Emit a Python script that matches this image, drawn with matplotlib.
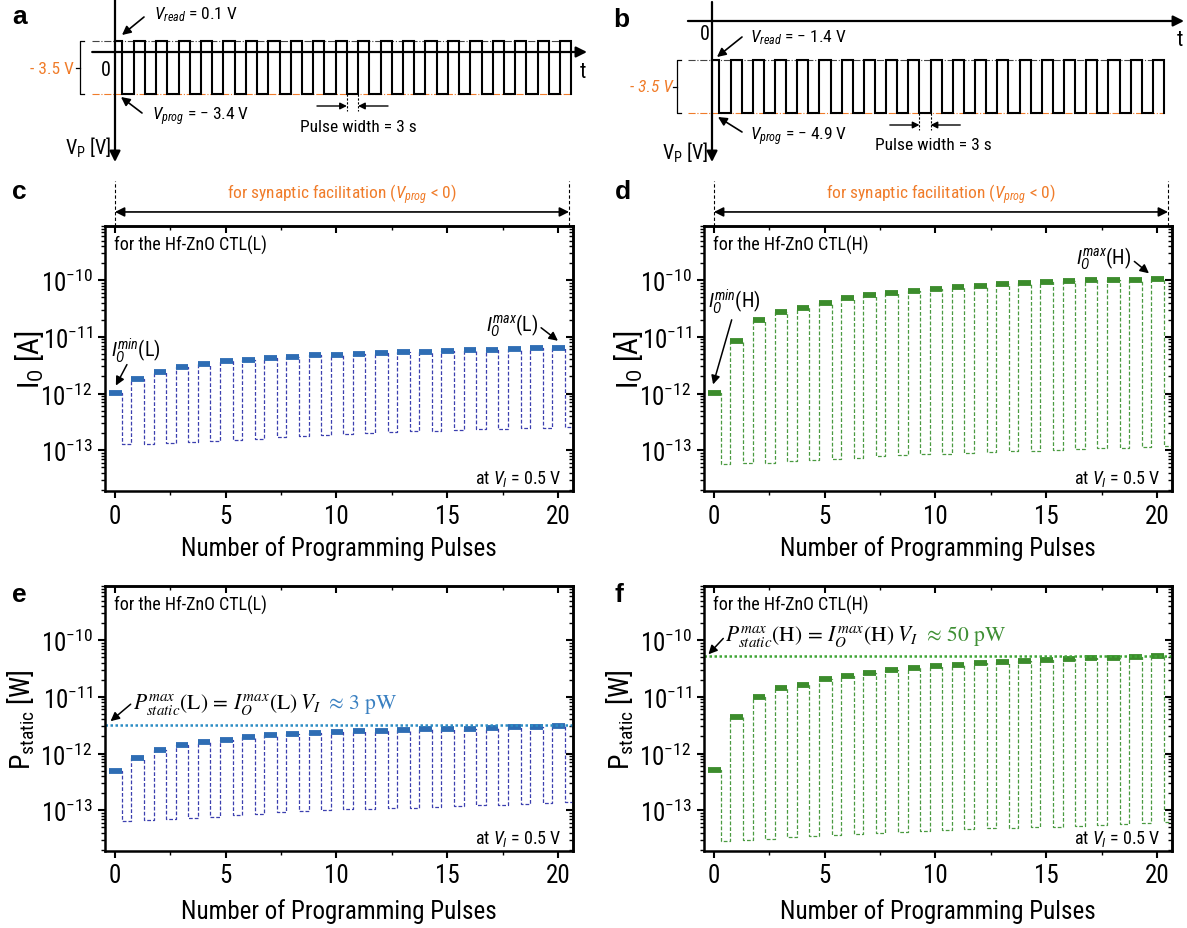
import numpy as np
import matplotlib
matplotlib.use('Agg')
import matplotlib.pyplot as plt
from matplotlib import font_manager as fm
from matplotlib.ticker import LogLocator, FixedLocator, NullFormatter, MultipleLocator

# ---------------- data ----------------
pulses = np.arange(21)

c_high = [1.03e-12, 1.78e-12, 2.4e-12, 2.9e-12, 3.3e-12, 3.7e-12, 3.97e-12, 4.25e-12, 4.4e-12, 4.8e-12,
          4.8e-12, 5.05e-12, 5.2e-12, 5.5e-12, 5.5e-12, 5.6e-12, 5.8e-12, 5.85e-12, 6.1e-12, 6.3e-12, 6.25e-12]
c_low = [1.26e-13, 1.29e-13, 1.32e-13, 1.40e-13, 1.48e-13, 1.54e-13, 1.60e-13, 1.73e-13, 1.80e-13, 1.88e-13,
         1.95e-13, 2.0e-13, 2.06e-13, 2.14e-13, 2.2e-13, 2.23e-13, 2.32e-13, 2.38e-13, 2.45e-13, 2.5e-13, 2.6e-13]

d_high = [1.02e-12, 8.4e-12, 2.01e-11, 2.71e-11, 3.27e-11, 4.0e-11, 4.78e-11, 5.5e-11, 6.0e-11, 6.4e-11,
          7.1e-11, 7.6e-11, 7.95e-11, 8.4e-11, 8.97e-11, 9.1e-11, 9.7e-11, 1.0e-10, 1.0e-10, 1.02e-10, 1.03e-10]
d_low = [5.67e-14, 5.83e-14, 6.0e-14, 6.33e-14, 6.68e-14, 7.05e-14, 7.43e-14, 7.85e-14, 8.28e-14, 8.5e-14,
         8.74e-14, 9.1e-14, 9.4e-14, 9.6e-14, 9.86e-14, 1.01e-13, 1.04e-13, 1.08e-13, 1.11e-13, 1.14e-13, 1.19e-13]

e_high = [4.9e-13, 8.26e-13, 1.16e-12, 1.39e-12, 1.62e-12, 1.75e-12, 1.96e-12, 2.1e-12, 2.18e-12, 2.28e-12,
          2.37e-12, 2.5e-12, 2.5e-12, 2.65e-12, 2.68e-12, 2.72e-12, 2.72e-12, 2.83e-12, 2.91e-12, 2.95e-12, 3.08e-12]
e_low = [6.45e-14, 6.71e-14, 7.1e-14, 7.39e-14, 7.7e-14, 8.14e-14, 8.49e-14, 9.2e-14, 9.6e-14, 1.0e-13,
         1.04e-13, 1.06e-13, 1.09e-13, 1.11e-13, 1.15e-13, 1.18e-13, 1.23e-13, 1.24e-13, 1.3e-13, 1.33e-13, 1.39e-13]
e_pmax = 3.2e-12

f_high = [5.18e-13, 4.34e-12, 1.0e-11, 1.41e-11, 1.61e-11, 2.04e-11, 2.3e-11, 2.65e-11, 2.95e-11, 3.2e-11,
          3.43e-11, 3.58e-11, 3.94e-11, 4.17e-11, 4.34e-11, 4.52e-11, 4.65e-11, 4.84e-11, 4.9e-11, 5.1e-11, 5.2e-11]
f_low = [2.91e-14, 3.03e-14, 3.16e-14, 3.34e-14, 3.48e-14, 3.63e-14, 3.78e-14, 3.99e-14, 4.16e-14, 4.33e-14,
         4.52e-14, 4.71e-14, 4.84e-14, 4.9e-14, 5.03e-14, 5.15e-14, 5.32e-14, 5.47e-14, 5.62e-14, 5.86e-14, 6.19e-14]
f_pmax = 5.3e-11

ytick_vals = [1e-13, 1e-12, 1e-11, 1e-10]

# schematic pulse trains (panels a, b)
n_prog_pulses = 20
pulse_width_s = 3
first_read_s = 2
a_levels = (11, -42)    # schematic (read, prog)
b_levels = (-39, -92)


# ---------------- fonts ----------------
def has_font(name):
    try:
        fm.findfont(fm.FontProperties(family=name), fallback_to_default=False)
        return True
    except Exception:
        return False


BASE = 'Liberation Sans'
for cand in ['Liberation Sans Narrow', 'Arial Narrow', 'Roboto Condensed', 'Archivo Narrow',
             'PT Sans Narrow', 'IBM Plex Sans Condensed', 'Liberation Sans']:
    if has_font(cand):
        BASE = cand
        break

plt.rcParams['font.family'] = [BASE, 'DejaVu Sans']
plt.rcParams['mathtext.fontset'] = 'custom'
plt.rcParams['mathtext.rm'] = BASE
plt.rcParams['mathtext.it'] = BASE + ':italic'
plt.rcParams['mathtext.bf'] = BASE + ':bold'
plt.rcParams['axes.unicode_minus'] = True

W, H = 1187, 929
fig = plt.figure(figsize=(W / 100, H / 100), dpi=100)

ORANGE = '#F07C2A'
BLUE_T, BLUE_D = '#2E6DB4', '#3B3FAF'
GREEN_T, GREEN_D = '#3C8C2C', '#4A9A40'


def rect(x0, y0, x1, y1):
    return [x0 / W, 1 - y1 / H, (x1 - x0) / W, (y1 - y0) / H]


def ftext(x, y, s, **kw):
    return fig.text(x / W, 1 - y / H, s, **kw)


def FP(x, y):
    return (x, H - y)


def letter(ch, x, y):
    ftext(x, y, ch, fontsize=19, fontweight='bold', family='Liberation Sans', ha='left', va='center')


# ---------------- schematic panels ----------------
def schematic(axrect, x0px, pxs, y0px, levels, axis_top, axis_tip, taxis, bracket_t, mark_k, mark_y):
    ax = fig.add_axes(axrect)
    ax.set_axis_off()
    wpx = axrect[2] * W
    hpx = axrect[3] * H
    ax.set_xlim(-x0px / pxs, (wpx - x0px) / pxs)
    ax.set_ylim(y0px - hpx, y0px)
    hi, lo = levels
    ts, vs = [0], [hi]
    period = 2 * pulse_width_s
    for k in range(n_prog_pulses):
        s = first_read_s + period * k
        ts += [s, s, s + pulse_width_s, s + pulse_width_s]
        vs += [hi, lo, lo, hi]
    t_end = first_read_s + period * n_prog_pulses
    ts += [t_end, t_end]
    vs += [hi, lo]
    ax.plot([taxis[0], t_end], [hi, hi], color='#444444', lw=0.8, ls='-.')
    ax.plot([taxis[0], t_end], [lo, lo], color=ORANGE, lw=0.8, ls='-.')
    ax.plot(ts, vs, color='k', lw=1.5, solid_joinstyle='miter')
    # axes arrows
    ax.annotate('', xy=(taxis[1], 0), xytext=(taxis[0], 0),
                arrowprops=dict(arrowstyle='-|>', color='k', lw=1.6, mutation_scale=16,
                                shrinkA=0, shrinkB=0))
    ax.annotate('', xy=(0, axis_tip), xytext=(0, axis_top),
                arrowprops=dict(arrowstyle='-|>', color='k', lw=1.6, mutation_scale=16,
                                shrinkA=0, shrinkB=0))
    # bracket
    bt = bracket_t
    ax.plot([bt + 1.1, bt, bt, bt + 1.1], [hi, hi, lo, lo], color='k', lw=0.9)
    ax.plot([bt, bt - 1.1], [(hi + lo) / 2] * 2, color='k', lw=0.9)
    # pulse width marker
    s = first_read_s + period * mark_k
    for tt in (s, s + pulse_width_s):
        ax.plot([tt, tt], [lo, mark_y - 5], color='k', lw=0.8, ls=(0, (2, 1.5)))
    ax.annotate('', xy=(s, mark_y), xytext=(s - 8, mark_y),
                arrowprops=dict(arrowstyle='-|>', color='k', lw=1.0, mutation_scale=10,
                                shrinkA=0, shrinkB=0))
    ax.annotate('', xy=(s + pulse_width_s, mark_y), xytext=(s + pulse_width_s + 8, mark_y),
                arrowprops=dict(arrowstyle='-|>', color='k', lw=1.0, mutation_scale=10,
                                shrinkA=0, shrinkB=0))
    return ax


ax_a = schematic(rect(0, 0, 600, 170), 115, 3.74, 53, a_levels, 53, -110, (-6.1, 126.2), -9.4, 10, -54)
ax_b = schematic(rect(600, 0, 1187, 170), 112, 3.705, 22, b_levels, 19, -141, (-6.5, 127.4), -9.4, 9, -104)

arr = dict(arrowstyle='-|>', color='k', lw=1.2, mutation_scale=13, shrinkA=0, shrinkB=0)
SF = 12.5
# panel a texts
ftext(154, 15, r'$V_{read}$ = 0.1 V', fontsize=SF, va='center')
ftext(152, 117, r'$V_{prog}$ = − 3.4 V', fontsize=SF, va='center')
ftext(300, 127, 'Pulse width = 3 s', fontsize=SF, va='center')
ftext(111, 148, r'V$_{\rm P}$ [V]', fontsize=14.5, va='center', ha='right')
ftext(106, 70, '0', fontsize=14.5, va='center', ha='center')
ftext(583, 72, 't', fontsize=15.5, va='center', ha='center')
ftext(74, 70, '- 3.5 V', fontsize=SF, va='center', ha='right', color=ORANGE)
fig.add_artist(plt.Annotation('', xy=FP(122, 36), xytext=FP(144, 18), xycoords='figure pixels', arrowprops=arr))
fig.add_artist(plt.Annotation('', xy=FP(121, 98), xytext=FP(142, 114), xycoords='figure pixels', arrowprops=arr))
# panel b texts
ftext(750, 38, r'$V_{read}$ = − 1.4 V', fontsize=SF, va='center')
ftext(750, 137, r'$V_{prog}$ = − 4.9 V', fontsize=SF, va='center')
ftext(875, 145, 'Pulse width = 3 s', fontsize=SF, va='center')
ftext(708, 153, r'V$_{\rm P}$ [V]', fontsize=14.5, va='center', ha='right')
ftext(705, 34, '0', fontsize=14.5, va='center', ha='center')
ftext(1180, 40, 't', fontsize=15.5, va='center', ha='center')
ftext(673, 88, '- 3.5 V', fontsize=SF, va='center', ha='right', color=ORANGE, style='italic')
fig.add_artist(plt.Annotation('', xy=FP(717, 58), xytext=FP(742, 38), xycoords='figure pixels', arrowprops=arr))
fig.add_artist(plt.Annotation('', xy=FP(718, 118), xytext=FP(742, 133), xycoords='figure pixels', arrowprops=arr))

letter('a', 12, 17)
letter('b', 613, 20)
letter('c', 12, 192)
letter('d', 615, 192)
letter('e', 12, 595)
letter('f', 615, 595)

YLIM = (10 ** -13.72, 10 ** -9.045)
XLIM = (-0.45, 20.68)


# ---------------- data panels ----------------
def data_panel(axrect, high, low, ct, cd, ylabel, tag, ylabel_x, ylabel_fs):
    ax = fig.add_axes(axrect)
    xs, ys = [], []
    for n, x in enumerate(pulses):
        xs += [x - 0.26, x + 0.31, x + 0.31, x + 0.74]
        ys += [high[n], high[n], low[n], low[n]]
        if n + 1 < len(pulses):
            xs += [x + 0.74]
            ys += [high[n + 1]]
    ax.plot(xs, ys, color=cd, lw=0.9, ls=(0, (3, 1.6)))
    for n, x in enumerate(pulses):
        ax.plot([x - 0.26, x + 0.31], [high[n], high[n]], color=ct, lw=4.2, solid_capstyle='butt')
    ax.set_yscale('log')
    ax.set_ylim(*YLIM)
    ax.set_xlim(*XLIM)
    ax.yaxis.set_major_locator(FixedLocator(ytick_vals))
    ax.yaxis.set_minor_locator(LogLocator(base=10, subs=np.arange(2, 10), numticks=30))
    ax.yaxis.set_minor_formatter(NullFormatter())
    ax.xaxis.set_major_locator(MultipleLocator(5))
    ax.xaxis.set_minor_locator(MultipleLocator(2.5))
    ax.tick_params(which='both', direction='out', top=False, right=False)
    ax.tick_params(which='major', length=5, width=1.5, labelsize=18, pad=4)
    ax.tick_params(which='minor', length=3, width=1.0)
    for sp in ax.spines.values():
        sp.set_linewidth(1.8)
    # inward mirror ticks on top and right
    sx = ax.secondary_xaxis('top')
    sx.xaxis.set_major_locator(MultipleLocator(5))
    sx.xaxis.set_minor_locator(MultipleLocator(2.5))
    sx.tick_params(which='both', direction='in', labeltop=False)
    sx.tick_params(which='major', length=5, width=1.5)
    sx.tick_params(which='minor', length=3, width=1.0)
    sx.spines['top'].set_linewidth(1.8)
    sy = ax.secondary_yaxis('right')
    sy.yaxis.set_major_locator(FixedLocator(ytick_vals))
    sy.yaxis.set_minor_locator(LogLocator(base=10, subs=np.arange(2, 10), numticks=30))
    sy.yaxis.set_minor_formatter(NullFormatter())
    sy.tick_params(which='both', direction='in', labelright=False)
    sy.tick_params(which='major', length=5, width=1.5)
    sy.tick_params(which='minor', length=3, width=1.0)
    sy.spines['right'].set_linewidth(1.8)

    ax.set_ylabel(ylabel, fontsize=ylabel_fs)
    ax.yaxis.set_label_coords(ylabel_x, 0.5)
    ax.yaxis.label.set_va('center')
    ax.set_xlabel('Number of Programming Pulses', fontsize=18)
    ax.text(0.02, 0.932, 'for the Hf-ZnO CTL(%s)' % tag, transform=ax.transAxes, fontsize=13,
            ha='left', va='center')
    ax.text(0.975, 0.05, r'at $V_I$ = 0.5 V', transform=ax.transAxes, fontsize=13, ha='right', va='center')
    return ax


ax_c = data_panel(rect(105, 227, 573, 492), c_high, c_low, BLUE_T, BLUE_D, r'I$_{\rm O}$ [A]', 'L', -0.162, 21)
ax_d = data_panel(rect(704, 227, 1172, 492), d_high, d_low, GREEN_T, GREEN_D, r'I$_{\rm O}$ [A]', 'H', -0.162, 21)
ax_e = data_panel(rect(105, 587, 573, 852), e_high, e_low, BLUE_T, BLUE_D, r'P$_{\rm static}$ [W]', 'L', -0.178, 20)
ax_f = data_panel(rect(704, 587, 1172, 852), f_high, f_low, GREEN_T, GREEN_D, r'P$_{\rm static}$ [W]', 'H', -0.178, 20)

for ax in (ax_c, ax_d):
    ax.xaxis.set_label_coords(0.5, -0.212)
    ax.xaxis.label.set_va('center')
for ax in (ax_e, ax_f):
    ax.xaxis.set_label_coords(0.5, -0.226)
    ax.xaxis.label.set_va('center')

# facilitation arrows above c and d
for ax in (ax_c, ax_d):
    tr = ax.get_xaxis_transform()
    xl, xr = pulses[0], pulses[-1] + 0.5
    for xv in (xl, xr):
        ax.plot([xv, xv], [1.0, 1.17], transform=tr, clip_on=False, color='k', lw=0.8, ls=(0, (3, 2)))
    ax.annotate('', xy=(xr, 1.053), xytext=(xl, 1.053), xycoords=tr,
                arrowprops=dict(arrowstyle='<|-|>', color='k', lw=1.2, mutation_scale=14,
                                shrinkA=0, shrinkB=0))
    ax.text((xl + xr) / 2, 1.12, r'for synaptic facilitation ($V_{prog}$ < 0)', transform=tr,
            fontsize=12.5, color=ORANGE, ha='center', va='center')

arr2 = dict(arrowstyle='-|>', color='k', lw=1.1, mutation_scale=13, shrinkA=0, shrinkB=0)
# c annotations
ax_c.text(0.95, 10 ** -11.23, r'$I_O^{min}$(L)', fontsize=14.5, ha='center', va='center')
ax_c.annotate('', xy=(0.04, 10 ** -11.86), xytext=(0.54, 10 ** -11.49), arrowprops=arr2)
ax_c.text(17.95, 10 ** -10.79, r'$I_O^{max}$(L)', fontsize=14.5, ha='center', va='center')
ax_c.annotate('', xy=(20.0, 10 ** -11.07), xytext=(19.24, 10 ** -10.84), arrowprops=arr2)
# d annotations
ax_d.text(0.94, 10 ** -10.37, r'$I_O^{min}$(H)', fontsize=14.5, ha='center', va='center')
ax_d.annotate('', xy=(-0.04, 10 ** -11.84), xytext=(0.8, 10 ** -10.70), arrowprops=arr2)
ax_d.text(17.6, 10 ** -9.61, r'$I_O^{max}$(H)', fontsize=14.5, ha='center', va='center')
ax_d.annotate('', xy=(19.64, 10 ** -9.88), xytext=(18.98, 10 ** -9.67), arrowprops=arr2)

# e / f dotted max lines and formulas
for ax, pmax, col, tcol, tag, val, tx, ty, a_from, a_to in (
        (ax_e, e_pmax, '#2B8CC4', '#3A80C1', 'L', '3', 0.8, -11.2, (0.71, -11.13), (-0.2, -11.43)),
        (ax_f, f_pmax, '#3FA535', '#3E8F34', 'H', '50', 0.5, -9.99, (0.42, -9.97), (-0.25, -10.25))):
    ax.axhline(pmax, color=col, lw=1.8, ls=(0, (1, 1)))
    t = ax.text(tx, 10 ** ty, r'$P_{static}^{max}(\mathrm{%s})\,=\,I_O^{max}(\mathrm{%s})\;V_I$' % (tag, tag),
                fontsize=15.5, ha='left', va='baseline', math_fontfamily='stix')
    ax.annotate(r'$\;\approx\,%s\ \mathrm{pW}$' % val, xy=(1, 10 ** ty), xycoords=(t, 'data'),
                fontsize=15.5, ha='left', va='baseline', color=tcol, math_fontfamily='stix')
    ax.annotate('', xy=(a_to[0], 10 ** a_to[1]), xytext=(a_from[0], 10 ** a_from[1]), arrowprops=arr2)

fig.savefig('out.png', dpi=100)
